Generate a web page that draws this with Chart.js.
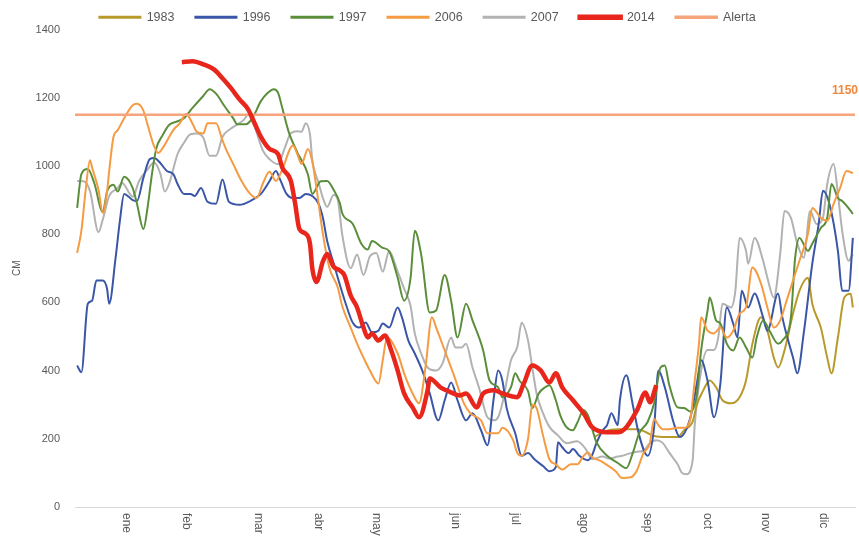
<!DOCTYPE html>
<html>
<head>
<meta charset="utf-8">
<script src="https://cdn.jsdelivr.net/npm/chart.js@4/dist/chart.umd.min.js"></script>
<style>
html,body{margin:0;padding:0;background:#ffffff;}
#wrap{width:859px;height:541px;position:relative;}
</style>
</head>
<body>
<div id="wrap"><canvas id="c"></canvas></div>
<script>
// ---- axis labels ----
const MONTHS = ['ene','feb','mar','abr','may','jun','jul','ago','sep','oct','nov','dic'];
const MONTH_TICK_DAYS = [24,52,86,114,141,178,206,238,268,296,323,350];
const Y_MIN = 0, Y_MAX = 1400, Y_STEP = 200;

// ---- alert level ----
const alertaDays = [0, 365];
const alertaCm = [1150, 1150];

// ---- series (day of year, cm) ----
const days1983 = [243,248,254,258,263,267,271,277,282,285,289,291,294,297,300,303,307,311,314,317,321,324,327,329,332,336,339,343,345,349,352,354,357,360,363,364];
const cm1983 = [205,222,228,228,228,220,208,205,205,225,250,300,342,371,351,313,304,322,371,479,556,517,438,409,459,567,634,672,596,526,438,392,497,614,625,585];

const days1996 = [1,3,6,8,10,13,15,16,19,21,23,27,29,32,35,37,40,43,46,48,51,54,56,59,62,66,69,72,77,82,87,91,94,96,99,102,105,108,111,114,116,118,121,124,127,130,133,136,139,142,144,147,151,153,156,159,163,166,170,173,176,179,183,186,190,193,196,198,200,202,206,209,212,215,219,222,225,226,228,231,233,236,240,242,244,247,249,251,254,255,258,261,264,268,271,273,276,280,283,288,291,293,296,299,302,305,308,310,312,315,318,322,324,329,331,336,338,341,345,348,350,353,357,359,362,364];
const cm1996 = [415,395,596,605,664,664,640,596,731,839,918,900,897,965,1020,1023,1008,985,976,947,918,918,912,935,895,889,960,895,886,897,918,955,985,960,918,906,906,918,912,889,848,780,715,650,590,540,526,541,512,517,538,526,585,556,488,450,392,333,254,313,365,313,254,275,225,181,322,400,370,290,216,150,158,140,120,105,117,190,175,158,170,150,137,152,187,225,240,275,240,313,386,300,210,150,234,400,351,250,205,263,362,430,370,263,362,585,538,497,634,585,626,556,517,626,556,438,392,509,713,830,927,889,751,634,634,789];

const days1997 = [1,3,6,9,13,15,18,20,23,27,29,32,34,36,38,41,44,48,51,55,60,63,66,70,74,76,80,83,87,90,93,95,97,100,104,109,111,115,118,121,124,125,130,134,137,139,144,147,151,154,157,159,162,166,169,173,176,179,183,186,191,194,198,200,204,206,208,212,214,217,220,222,225,227,230,233,235,238,240,244,249,254,258,261,264,268,271,274,276,278,282,285,288,291,293,296,297,300,302,305,308,311,314,317,319,322,325,329,331,335,337,339,343,345,349,352,354,357,359,363,364];
const cm1997 = [877,976,991,950,865,925,945,925,968,935,889,815,880,976,1050,1090,1120,1131,1140,1170,1205,1225,1212,1175,1140,1122,1122,1140,1190,1213,1225,1215,1170,1100,1040,975,918,955,956,930,890,862,830,772,755,780,760,750,672,605,670,810,740,570,576,680,605,497,596,547,459,371,351,322,351,392,370,340,290,333,351,357,313,270,234,225,246,284,269,190,150,129,114,158,216,250,304,409,415,360,292,290,280,330,459,576,614,547,538,479,459,497,468,438,497,547,517,479,488,556,731,789,751,772,818,848,947,906,897,868,859];

const days2006 = [1,3,5,7,8,11,13,15,16,18,20,23,27,29,32,34,37,39,41,46,49,52,55,57,60,62,66,69,71,74,78,82,85,88,91,94,97,102,104,106,109,111,113,116,119,123,125,129,132,135,138,142,144,146,151,154,158,161,164,167,169,173,177,182,185,190,193,198,200,205,207,209,212,214,216,219,222,225,228,232,235,238,240,242,246,249,253,256,260,263,266,269,271,273,275,278,282,285,288,290,292,293,296,299,302,305,308,311,314,317,321,324,327,330,333,336,339,343,345,349,352,355,358,361,364];
const cm2006 = [745,810,930,1017,995,930,862,925,985,1085,1105,1140,1178,1182,1162,1120,1058,1038,1052,1105,1125,1152,1124,1100,1095,1125,1125,1075,1044,1006,955,918,906,950,983,956,990,1060,1035,1006,1050,1014,935,801,702,643,590,526,479,438,400,362,430,497,450,392,333,304,409,556,526,459,392,304,275,254,216,216,232,196,158,150,200,300,290,210,140,125,110,125,125,150,160,146,135,123,105,85,87,108,158,187,258,240,228,228,232,232,260,370,480,556,517,509,526,497,517,567,585,702,655,585,526,547,605,664,722,801,877,848,839,889,935,985,979];

const days2007 = [1,4,7,11,13,16,20,22,27,30,34,37,40,42,44,48,51,54,57,60,63,66,69,73,76,79,81,84,88,91,95,98,101,104,106,108,110,111,114,116,118,121,123,125,129,132,135,138,141,144,147,151,154,157,159,162,165,169,172,176,178,181,183,186,189,193,196,198,200,204,207,209,212,214,216,219,222,226,230,235,239,242,247,250,254,256,260,263,266,269,272,275,278,282,284,286,289,290,293,296,299,301,303,307,309,311,314,315,318,322,324,327,330,332,335,338,341,344,347,350,352,355,357,359,362,364];
const cm2007 = [956,955,927,806,843,912,935,950,910,956,990,1010,976,925,947,1035,1068,1093,1095,1083,1030,1030,1085,1110,1122,1135,1150,1115,1044,1020,1005,1050,1096,1102,1100,1125,1090,1020,950,906,880,915,900,801,700,740,680,735,745,690,750,690,640,590,509,450,409,400,421,497,468,468,479,409,351,263,254,263,304,430,470,540,488,409,333,275,235,210,187,193,170,140,148,142,148,150,158,162,165,187,196,188,160,125,100,96,135,240,400,460,460,497,596,585,634,789,751,713,789,722,672,614,742,868,848,772,731,868,830,848,947,1006,918,810,722,742];

const days2014 = [50,55,60,65,69,73,77,81,83,87,91,95,97,101,103,105,108,110,111,113,116,118,121,124,126,129,132,135,137,139,142,145,148,151,154,158,161,165,166,171,176,180,183,188,191,196,200,207,210,214,218,222,225,228,233,238,242,249,254,258,263,267,269,272];
const cm2014 = [1304,1307,1298,1283,1257,1228,1195,1166,1140,1085,1050,1035,995,956,890,815,801,770,702,660,720,742,705,693,680,620,585,526,497,509,488,503,459,400,333,292,263,342,377,351,336,327,333,292,333,342,333,322,362,415,400,365,392,351,313,275,234,219,219,234,284,336,307,357];

const toPts = (xs, ys) => xs.map((x, i) => ({x: x, y: ys[i]}));

const FONT = "'Liberation Sans', Arial, sans-serif";
const TXT = '#595959';

function lineDs(label, xs, ys, color, width, order) {
  return {
    label: label,
    data: toPts(xs, ys),
    borderColor: color,
    backgroundColor: color,
    borderWidth: width,
    pointRadius: 0,
    pointHoverRadius: 0,
    fill: false,
    cubicInterpolationMode: 'monotone',
    order: order
  };
}

const monthLabelPlugin = {
  id: 'monthLabels',
  afterDraw(chart) {
    const {ctx, chartArea} = chart;
    const xs = chart.scales.x;
    ctx.save();
    ctx.fillStyle = TXT;
    ctx.font = '12px ' + FONT;
    ctx.textAlign = 'left';
    ctx.textBaseline = 'middle';
    MONTHS.forEach((m, i) => {
      const px = xs.getPixelForValue(MONTH_TICK_DAYS[i]);
      ctx.save();
      ctx.translate(px, chartArea.bottom + 6);
      ctx.rotate(Math.PI / 2);
      ctx.fillText(m, 0, 0);
      ctx.restore();
    });
    ctx.restore();
  }
};

const alertLabelPlugin = {
  id: 'alertLabel',
  afterDatasetsDraw(chart) {
    const {ctx} = chart;
    const xs = chart.scales.x, ys = chart.scales.y;
    const lastX = alertaDays[alertaDays.length - 1];
    const lastY = alertaCm[alertaCm.length - 1];
    ctx.save();
    ctx.fillStyle = '#F0873A';
    ctx.font = 'bold 12px ' + FONT;
    ctx.textAlign = 'right';
    ctx.textBaseline = 'middle';
    ctx.fillText(String(lastY), xs.getPixelForValue(lastX) + 3, ys.getPixelForValue(lastY) - 24);
    ctx.restore();
  }
};

const legendShiftPlugin = {
  id: 'legendShift',
  afterLayout(chart) {
    if (chart.legend) { chart.legend.top += 4; chart.legend.bottom += 4; }
  }
};

new Chart(document.getElementById('c'), {
  type: 'line',
  data: {
    datasets: [
      lineDs('1983', days1983, cm1983, '#B89A2C', 2, 6),
      lineDs('1996', days1996, cm1996, '#3A56A6', 2, 5),
      lineDs('1997', days1997, cm1997, '#5B8E3B', 2, 4),
      lineDs('2006', days2006, cm2006, '#F59B42', 2, 3),
      lineDs('2007', days2007, cm2007, '#B2B2B2', 2, 7),
      lineDs('2014', days2014, cm2014, '#E8261C', 4.5, 0),
      Object.assign(lineDs('Alerta', alertaDays, alertaCm, '#F5A47C', 2.5, 1), {cubicInterpolationMode: 'default', tension: 0})
    ]
  },
  options: {
    responsive: true,
    maintainAspectRatio: false,
    animation: false,
    events: [],
    layout: { padding: { top: -14, right: 4, bottom: 34, left: 0 } },
    plugins: {
      tooltip: { enabled: false },
      legend: {
        position: 'top',
        align: 'center',
        labels: {
          boxWidth: 41,
          boxHeight: 1,
          padding: 21,
          color: TXT,
          font: { family: FONT, size: 12.5 },
          sort: (a, b) => a.datasetIndex - b.datasetIndex
        }
      }
    },
    scales: {
      x: {
        type: 'linear',
        min: 0,
        max: 365,
        grid: { display: false, drawTicks: false },
        border: { display: true, color: '#DDD8D8', width: 1 },
        ticks: { display: false },
        afterFit(s) { s.height = 0; }
      },
      y: {
        min: Y_MIN,
        max: Y_MAX,
        grid: { display: false, drawTicks: false },
        border: { display: false },
        ticks: {
          stepSize: Y_STEP,
          padding: 15,
          color: TXT,
          font: { family: FONT, size: 11 },
          callback: (v) => String(v)
        },
        title: {
          display: true,
          text: 'CM',
          color: TXT,
          font: { family: FONT, size: 10 },
          padding: { top: 11, bottom: 0 }
        },
        afterFit(s) { s.width = 75; }
      }
    }
  },
  plugins: [monthLabelPlugin, alertLabelPlugin, legendShiftPlugin]
});
</script>
</body>
</html>
